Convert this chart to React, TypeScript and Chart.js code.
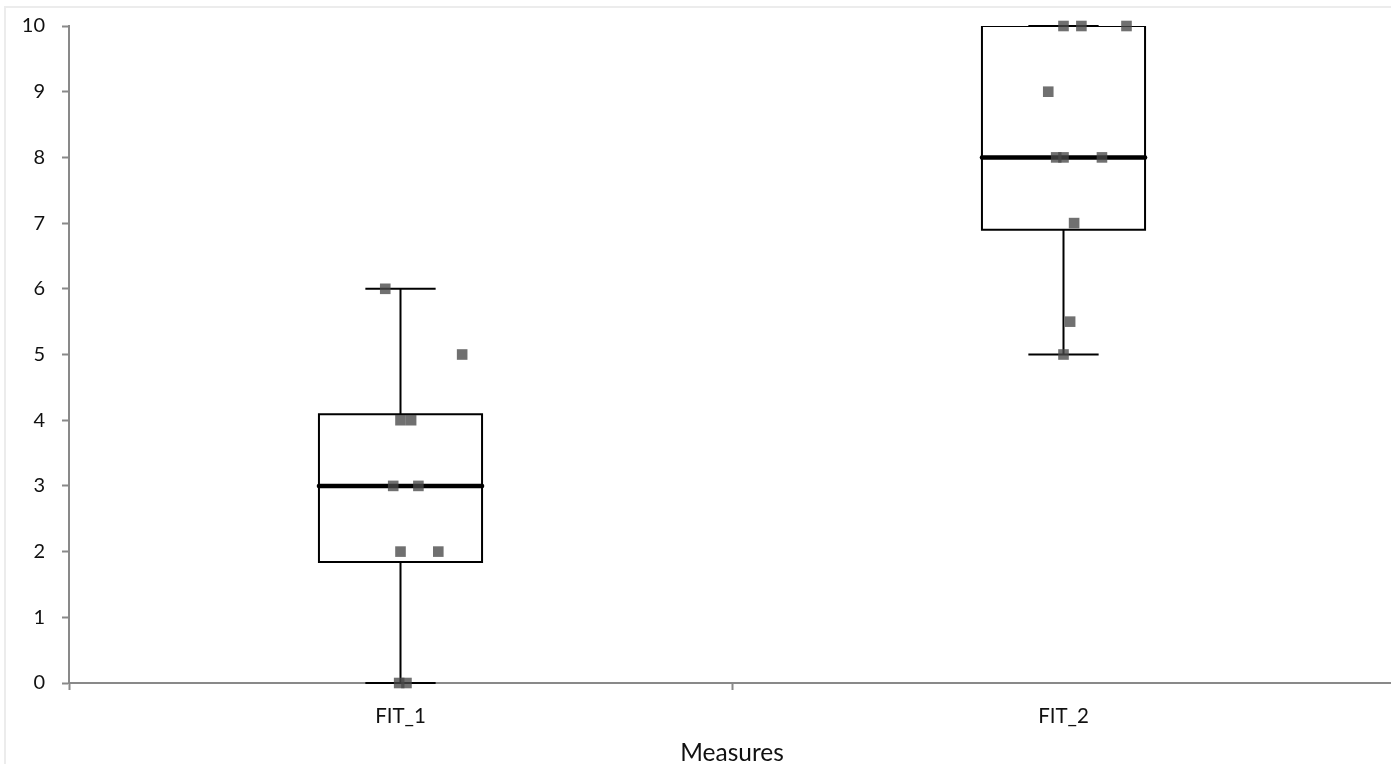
import React, { useEffect, useRef } from 'react';
import { Chart, registerables } from 'chart.js';

Chart.register(...registerables);

// ---- data ----
const categories = ['FIT_1', 'FIT_2'];
const whiskerLow = [0, 5];
const quartile1 = [1.84, 6.9];
const medians = [3, 8];
const quartile3 = [4.09, 10];
const whiskerHigh = [6, 10];

const fit1Values = [6, 5, 4, 4, 3, 3, 2, 2, 0, 0];
const fit1Jitter = [-0.023, 0.093, 0, 0.016, -0.011, 0.027, 0, 0.057, -0.002, 0.009];
const fit2Values = [10, 10, 10, 9, 8, 8, 8, 7, 5.5, 5];
const fit2Jitter = [0, 0.027, 0.095, -0.023, -0.011, 0, 0.058, 0.016, 0.01, 0];

const yMin = 0;
const yMax = 10;
const yStep = 1;
const xTitle = 'Measures';

// ---- styles ----
const BOX_HALF = 0.123;
const CAP_HALF = 0.053;
const FONT = 'Lato, "Open Sans", sans-serif';
const AXIS_GRAY = '#898989';
const POINT_COLOR = 'rgba(72,72,72,0.78)';

function lineDs(points: { x: number; y: number }[], width: number, extra: any = {}) {
  return {
    type: 'scatter' as const,
    data: points,
    showLine: true,
    fill: false,
    tension: 0,
    borderColor: '#000',
    backgroundColor: '#000',
    borderWidth: width,
    pointRadius: 0,
    pointHoverRadius: 0,
    order: 1,
    ...extra,
  };
}

export default function App() {
  const ref = useRef<HTMLCanvasElement | null>(null);

  useEffect(() => {
    if (!ref.current) return;
    const datasets: any[] = [];
    const groups = [
      { values: fit1Values, jitter: fit1Jitter },
      { values: fit2Values, jitter: fit2Jitter },
    ];
    groups.forEach((g, c) => {
      datasets.push({
        type: 'scatter',
        data: g.values.map((v, i) => ({ x: c + g.jitter[i], y: v })),
        pointStyle: 'rect',
        pointRadius: 7.5,
        pointHoverRadius: 7.5,
        pointBorderWidth: 0,
        backgroundColor: POINT_COLOR,
        borderColor: POINT_COLOR,
        clip: false,
        order: 0,
      });
    });
    categories.forEach((_, c) => {
      const lo = c - BOX_HALF;
      const hi = c + BOX_HALF;
      datasets.push(
        lineDs(
          [
            { x: lo, y: quartile1[c] },
            { x: hi, y: quartile1[c] },
            { x: hi, y: quartile3[c] },
            { x: lo, y: quartile3[c] },
            { x: lo, y: quartile1[c] },
          ],
          2,
          { clip: 0, borderJoinStyle: 'miter', borderCapStyle: 'square' }
        )
      );
      datasets.push(lineDs([{ x: c, y: quartile3[c] }, { x: c, y: whiskerHigh[c] }], 2, { clip: false }));
      datasets.push(lineDs([{ x: c, y: quartile1[c] }, { x: c, y: whiskerLow[c] }], 2, { clip: false }));
      datasets.push(
        lineDs([{ x: c - CAP_HALF, y: whiskerHigh[c] }, { x: c + CAP_HALF, y: whiskerHigh[c] }], 2, { clip: false })
      );
      datasets.push(
        lineDs([{ x: c - CAP_HALF, y: whiskerLow[c] }, { x: c + CAP_HALF, y: whiskerLow[c] }], 2, { clip: false })
      );
      datasets.push(
        lineDs([{ x: lo, y: medians[c] }, { x: hi, y: medians[c] }], 4.5, { clip: false, borderCapStyle: 'round' })
      );
    });

    const chart = new Chart(ref.current, {
      type: 'scatter',
      data: { datasets },
      options: {
        animation: false,
        responsive: false,
        devicePixelRatio: 1,
        layout: { autoPadding: false, padding: { left: 0, top: 26, right: 1, bottom: 0 } },
        plugins: { legend: { display: false }, tooltip: { enabled: false } },
        scales: {
          x: {
            type: 'linear',
            min: -0.5,
            max: 1.5,
            afterBuildTicks: (scale: any) => {
              const t: any[] = [];
              for (let i = 0; i <= categories.length * 2; i++) t.push({ value: -0.5 + i * 0.5 });
              scale.ticks = t;
            },
            afterFit: (scale: any) => {
              scale.height = 81;
              scale.paddingLeft = 0;
              scale.paddingRight = 0;
            },
            ticks: {
              autoSkip: false,
              maxRotation: 0,
              padding: 14,
              color: '#111',
              font: { family: FONT, size: 20.5 },
              callback: (v: any) => {
                const n = Number(v);
                return Number.isInteger(n) && categories[n] !== undefined ? categories[n] : '';
              },
            },
            grid: {
              drawOnChartArea: false,
              drawTicks: true,
              tickLength: 7,
              tickWidth: 2,
              tickColor: (ctx: any) =>
                ctx.tick && Number.isInteger(ctx.tick.value) ? 'rgba(0,0,0,0)' : AXIS_GRAY,
            },
            border: { display: true, color: AXIS_GRAY, width: 2 },
            title: {
              display: true,
              text: xTitle,
              color: '#111',
              font: { family: FONT, size: 24.5, lineHeight: 1 },
              padding: { top: 0, bottom: -1.5 },
            },
          },
          y: {
            type: 'linear',
            min: yMin,
            max: yMax,
            afterFit: (scale: any) => {
              scale.width = 69;
              scale.paddingTop = 0;
              scale.paddingBottom = 0;
            },
            ticks: {
              stepSize: yStep,
              padding: 17,
              color: '#111',
              font: { family: FONT, size: 20 },
            },
            grid: {
              drawOnChartArea: false,
              drawTicks: true,
              tickLength: 7,
              tickWidth: 2,
              tickColor: AXIS_GRAY,
            },
            border: { display: true, color: AXIS_GRAY, width: 2 },
          },
        },
      },
    } as any);
    return () => chart.destroy();
  }, []);

  return (
    <div
      style={{
        position: 'fixed',
        left: 0,
        top: 0,
        width: 1391,
        height: 764,
        overflow: 'hidden',
        background: '#fff',
      }}
    >
      <div
        style={{
          position: 'absolute',
          left: 4,
          top: 6,
          width: 2000,
          height: 2000,
          borderLeft: '2px solid #ececec',
          borderTop: '2px solid #ececec',
        }}
      />
      <canvas ref={ref} width={1396} height={764} style={{ position: 'absolute', left: 0, top: 0, display: 'block' }} />
    </div>
  );
}
